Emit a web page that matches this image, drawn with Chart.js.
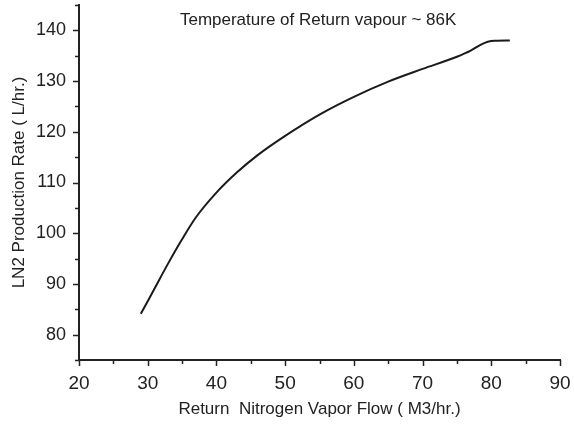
<!DOCTYPE html>
<html>
<head>
<meta charset="utf-8">
<script src="https://cdn.jsdelivr.net/npm/chart.js@4.4.0/dist/chart.umd.min.js"></script>
<style>
  html, body { margin: 0; padding: 0; background: #fff; }
  #wrap { width: 574px; height: 424px; }
</style>
</head>
<body>
<div id="wrap"><canvas id="chart" width="574" height="424"></canvas></div>
<script>
// valores
const flowValues = [29, 31, 33, 35, 37, 40, 43, 46, 50, 55, 60, 65, 70, 75, 77, 78.5, 79.5, 80.5, 82.7];
const rateValues = [84.1, 89.1, 94.1, 98.8, 103.1, 108.0, 112.0, 115.4, 119.2, 123.4, 126.9, 129.9, 132.4, 134.8, 136.0, 137.2, 137.75, 137.95, 138.0];
const xTickValues = [20, 30, 40, 50, 60, 70, 80, 90];
const yTickValues = [80, 90, 100, 110, 120, 130, 140];
const noteText = 'Temperature of Return vapour ~ 86K';
const notePos = [54.8, 142.0];

const ink = '#222';
const fontFam = '"Liberation Sans", Arial, sans-serif';
const points = flowValues.map((x, i) => ({ x: x, y: rateValues[i] }));

// marcas mayores y menores del eje (Chart.js no trae minor ticks)
const tickMarks = {
  id: 'tickMarks',
  afterDraw(chart) {
    const ctx = chart.ctx;
    const xs = chart.scales.x, ys = chart.scales.y;
    ctx.save();
    ctx.strokeStyle = ink;
    ctx.lineWidth = 1.5;
    for (let v = 20; v <= 90; v += 5) {
      const px = Math.round(xs.getPixelForValue(v)) + 0.5;
      const len = xTickValues.includes(v) ? 6 : 4;
      ctx.beginPath();
      ctx.moveTo(px, xs.top);
      ctx.lineTo(px, xs.top + len);
      ctx.stroke();
    }
    for (let v = 75; v <= 145; v += 5) {
      const py = Math.round(ys.getPixelForValue(v)) + 0.5;
      const len = yTickValues.includes(v) ? 6 : 4;
      ctx.beginPath();
      ctx.moveTo(ys.right, py);
      ctx.lineTo(ys.right - len, py);
      ctx.stroke();
    }
    // nota dentro del grafico
    ctx.fillStyle = ink;
    ctx.font = '17px ' + fontFam;
    ctx.textAlign = 'center';
    ctx.textBaseline = 'middle';
    ctx.fillText(noteText, xs.getPixelForValue(notePos[0]), ys.getPixelForValue(notePos[1]));
    ctx.restore();
  }
};

new Chart(document.getElementById('chart'), {
  type: 'scatter',
  data: {
    datasets: [{
      data: points,
      showLine: true,
      borderColor: '#1a1a1a',
      borderWidth: 2,
      pointRadius: 0,
      cubicInterpolationMode: 'monotone',
      fill: false
    }]
  },
  options: {
    responsive: false,
    animation: false,
    layout: { padding: { top: 5, right: 14, bottom: 0, left: 0 } },
    plugins: { legend: { display: false }, tooltip: { enabled: false } },
    scales: {
      x: {
        type: 'linear',
        min: 20, max: 90,
        afterFit: (s) => { s.height = 64; s.paddingLeft = 0; s.paddingRight = 0; },
        border: { display: true, color: ink, width: 2 },
        grid: { drawOnChartArea: false, color: 'transparent', tickLength: 6 },
        ticks: {
          stepSize: 10,
          padding: 6,
          color: ink,
          font: { family: fontFam, size: 19 },
          maxRotation: 0
        },
        title: {
          display: true,
          text: 'Return  Nitrogen Vapor Flow ( M3/hr.)',
          color: ink,
          font: { family: fontFam, size: 17 },
          padding: { top: 0, bottom: 4 }
        }
      },
      y: {
        type: 'linear',
        min: 75, max: 145,
        afterFit: (s) => { s.width = 79; s.paddingTop = 0; s.paddingBottom = 0; },
        border: { display: true, color: ink, width: 2 },
        grid: { drawOnChartArea: false, color: 'transparent', tickLength: 6 },
        ticks: {
          stepSize: 5,
          padding: 7,
          color: ink,
          font: { family: fontFam, size: 18 },
          callback: (v) => (yTickValues.includes(v) ? String(v) : '')
        },
        title: {
          display: true,
          text: 'LN2 Production Rate ( L/hr.)',
          color: ink,
          font: { family: fontFam, size: 17 },
          padding: { top: 9, bottom: 0 }
        }
      }
    }
  },
  plugins: [tickMarks]
});
</script>
</body>
</html>
